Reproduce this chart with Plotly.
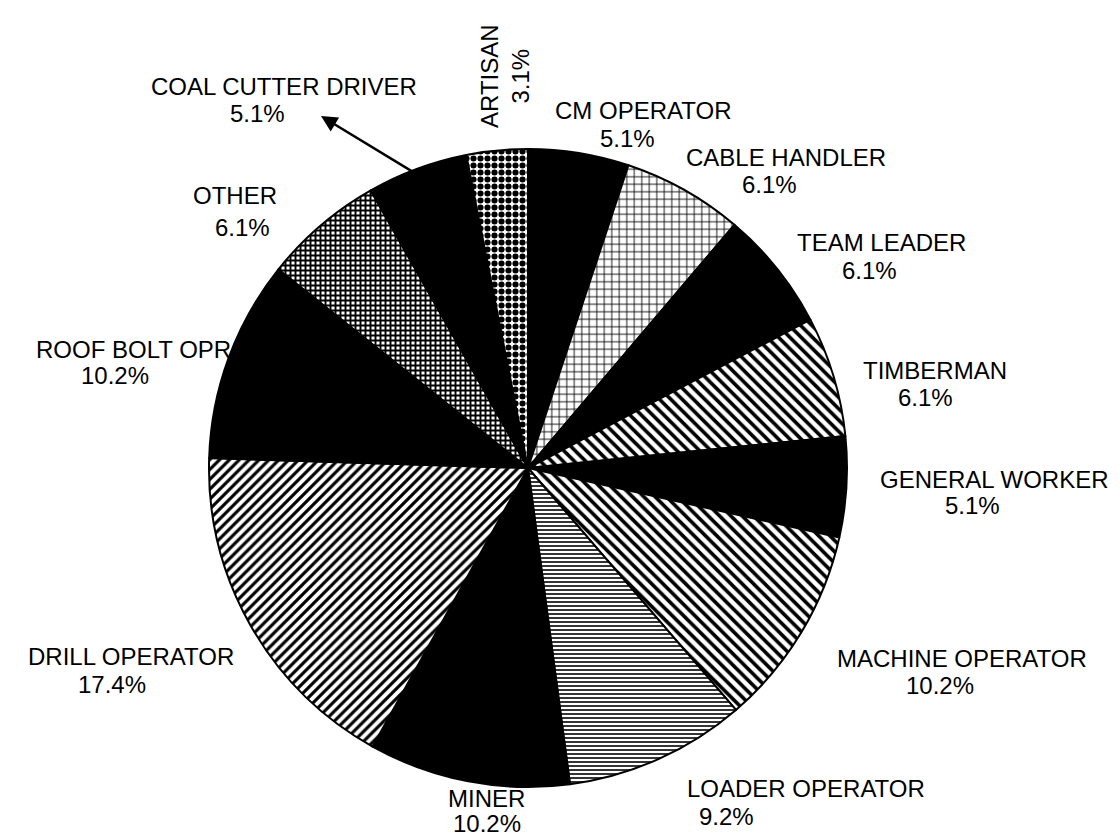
import plotly.graph_objects as go

# ---- data ----
occupations = ["CM OPERATOR", "CABLE HANDLER", "TEAM LEADER", "TIMBERMAN",
               "GENERAL WORKER", "MACHINE OPERATOR", "LOADER OPERATOR", "MINER",
               "DRILL OPERATOR", "ROOF BOLT OPR", "OTHER", "COAL CUTTER DRIVER",
               "ARTISAN"]
percentages = [5.1, 6.1, 6.1, 6.1, 5.1, 10.2, 9.2, 10.2, 17.4, 10.2, 6.1, 5.1, 3.1]

# ---- styles (per slice) ----
fill_colors = ["black", "white", "black", "white", "black", "white", "white",
               "black", "white", "black", "white", "black", "white"]
pattern_shapes = ["", "+", "", "\\", "", "\\", "-", "", "/", "", "+", "", "."]
pattern_sizes = [8, 7.5, 8, 8, 8, 8, 4, 8, 7, 8, 5, 8, 7]
pattern_solidity = [0.3, 0.22, 0.3, 0.45, 0.3, 0.45, 0.4, 0.3, 0.45, 0.3, 0.62, 0.3, 0.6]

# label placement in pixels (name centre, percent centre)
W, H = 1120, 840
name_pos = [(635, 102), (778, 149), (873, 234), (927, 362), (986, 471),
            (954, 650), (798, 780), (478, 790), (123, 648), (125, 341),
            (227, 188), (276, 78), None]
pct_pos = [(619, 130), (761, 176), (861, 262), (917, 389), (964, 497),
           (932, 677), (718, 808), (479, 815), (104, 676), (107, 367),
           (234, 220), (249, 105), None]

cx, cy, r = 520, 460, 319

fig = go.Figure(go.Pie(
    labels=occupations,
    values=percentages,
    sort=False,
    direction="clockwise",
    rotation=0,
    textinfo="none",
    hoverinfo="label+percent",
    marker=dict(
        colors=fill_colors,
        line=dict(color="black", width=2),
        pattern=dict(shape=pattern_shapes, fgcolor="black", bgcolor="white",
                     size=pattern_sizes, solidity=pattern_solidity,
                     fillmode="replace"),
    ),
    domain=dict(x=[(cx - r) / W, (cx + r) / W],
                y=[1 - (cy + r) / H, 1 - (cy - r) / H]),
    showlegend=False,
))

font = dict(family="Liberation Sans, Arial, sans-serif", size=24, color="black")
ann = []
for name, val, npos, ppos in zip(occupations, percentages, name_pos, pct_pos):
    if npos is None:
        continue
    ann.append(dict(x=npos[0] / W, y=1 - npos[1] / H, xref="paper", yref="paper",
                    text=name, showarrow=False, font=font, borderpad=0,
                    xanchor="center", yanchor="middle"))
    ann.append(dict(x=ppos[0] / W, y=1 - ppos[1] / H, xref="paper", yref="paper",
                    text=f"{val:.1f}%", showarrow=False, font=font, borderpad=0,
                    xanchor="center", yanchor="middle"))

# ARTISAN (rotated)
ann.append(dict(x=497 / W, y=1 - 68 / H, xref="paper", yref="paper",
                text=f"{occupations[-1]}<br>{percentages[-1]:.1f}%",
                showarrow=False, font=font, textangle=-90,
                xanchor="center", yanchor="middle"))

# arrow for COAL CUTTER DRIVER
ann.append(dict(x=313 / W, y=1 - 108 / H, xref="paper", yref="paper",
                ax=102, ay=62, text="", showarrow=True,
                arrowhead=2, arrowsize=1.3, arrowwidth=2.5, arrowcolor="black"))

fig.update_layout(
    width=W, height=H,
    margin=dict(l=0, r=0, t=0, b=0),
    paper_bgcolor="white", plot_bgcolor="white",
    annotations=ann,
)

fig.write_html("out.html")
